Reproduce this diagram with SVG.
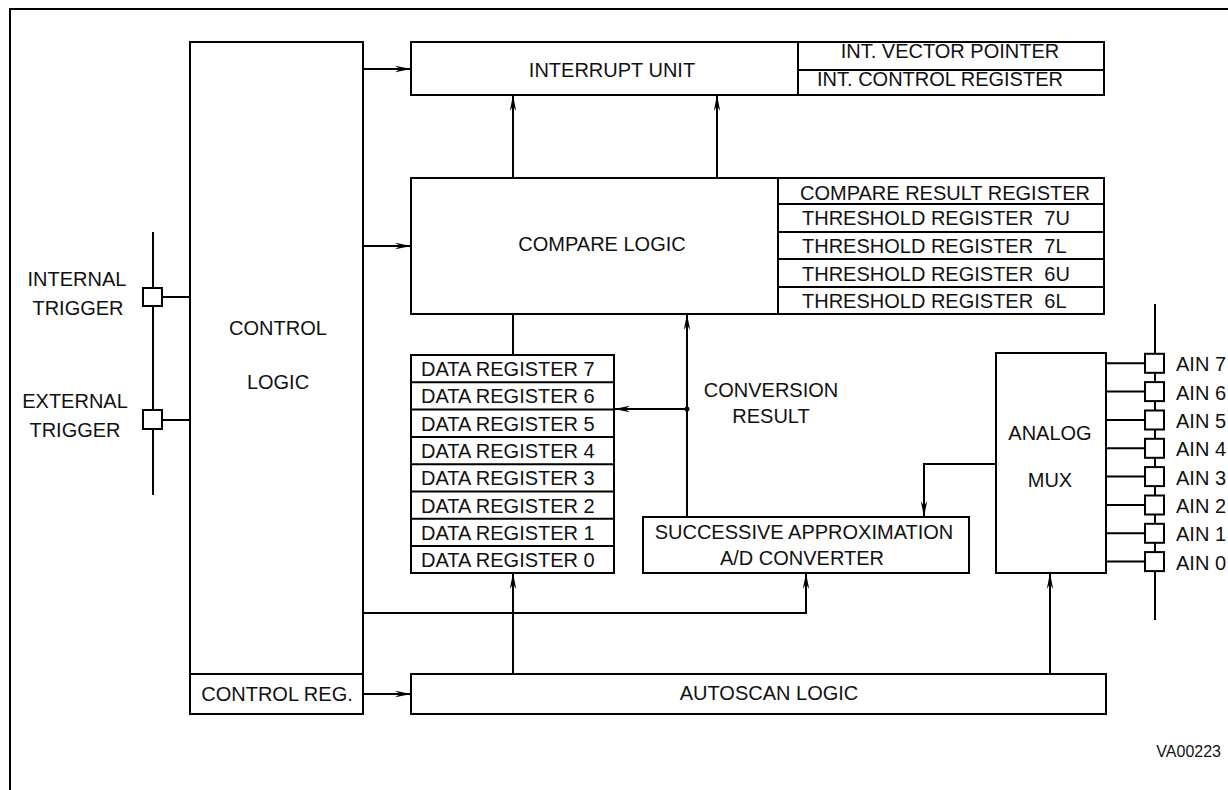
<svg xmlns="http://www.w3.org/2000/svg" width="1228" height="790" viewBox="0 0 1228 790">
<style>
  .box { fill: #fff; stroke: #000; stroke-width: 2; }
  .div { fill: none; stroke: #000; stroke-width: 2; }
  .ln { fill: none; stroke: #000; stroke-width: 2; }
  .ar { fill: none; stroke: #000; stroke-width: 2; marker-end: url(#arr); }
  .pin { fill: #fff; stroke: #000; stroke-width: 2; }
  text { font-family: "Liberation Sans", Arial, sans-serif; font-size: 20px; fill: #111; }
  .c { text-anchor: middle; }
  .s { text-anchor: start; }
  .small { font-size: 16px; text-anchor: end; }
</style>
<defs>
  <marker id="arr" viewBox="0 0 16 8" markerWidth="16" markerHeight="8" refX="16" refY="4" orient="auto" markerUnits="userSpaceOnUse">
    <path d="M0,0.8 L16,4 L0,7.2 L5,4 Z" fill="#000"/>
  </marker>
</defs>
<rect width="1228" height="790" fill="#fff"/>
<g id="frame">
  <path class="ln" d="M10,790 L10,9 L1228,9"/>
</g>

<g id="connectors">
  <!-- control logic to interrupt / compare -->
  <path class="ar" d="M363,69 L411,69"/>
  <path class="ar" d="M363,246 L411,246"/>
  <!-- compare to interrupt -->
  <path class="ar" d="M513,178 L513,95"/>
  <path class="ar" d="M717,178 L717,95"/>
  <!-- compare to data registers -->
  <path class="ln" d="M513,314 L513,355"/>
  <!-- conversion result -->
  <path class="ar" d="M687,517 L687,314"/>
  <path class="ar" d="M687,409 L614,409"/>
  <circle cx="687" cy="409" r="2.5" fill="#000"/>
  <!-- mux to SAR -->
  <path class="ar" d="M996,464 L924,464 L924,517"/>
  <!-- control logic to SAR -->
  <path class="ar" d="M363,613 L806,613 L806,573"/>
  <!-- autoscan to data registers -->
  <path class="ar" d="M513,674 L513,573"/>
  <!-- control reg to autoscan -->
  <path class="ar" d="M363,694 L411,694"/>
  <!-- autoscan to mux -->
  <path class="ar" d="M1050,674 L1050,573"/>
  <!-- trigger bus -->
  <path class="ln" d="M153,232 L153,495"/>
  <path class="ln" d="M162,297 L190,297"/>
  <path class="ln" d="M162,420 L190,420"/>
  <!-- AIN bus -->
  <path class="ln" d="M1155,304 L1155,620"/>
  <path class="ln" d="M1106,363.3 L1145,363.3 M1106,391.6 L1145,391.6 M1106,420 L1145,420 M1106,448.3 L1145,448.3 M1106,476.6 L1145,476.6 M1106,505 L1145,505 M1106,533.3 L1145,533.3 M1106,561.6 L1145,561.6"/>
</g>

<g id="control-logic">
  <rect class="box" x="190" y="42" width="173" height="632"/>
  <text class="c" x="278" y="335">CONTROL</text>
  <text class="c" x="278" y="389">LOGIC</text>
</g>
<g id="control-reg">
  <rect class="box" x="190" y="674" width="173" height="40"/>
  <text class="c" x="277" y="701">CONTROL REG.</text>
</g>

<g id="interrupt-unit">
  <rect class="box" x="411" y="42" width="693" height="53"/>
  <path class="div" d="M798,42 L798,95 M798,70 L1104,70"/>
  <text class="c" x="612" y="77">INTERRUPT UNIT</text>
  <text class="c" x="950" y="58">INT. VECTOR POINTER</text>
  <text class="c" x="940" y="86">INT. CONTROL REGISTER</text>
</g>

<g id="compare-logic">
  <rect class="box" x="411" y="178" width="693" height="136"/>
  <path class="div" d="M778,178 L778,314 M778,204 L1104,204 M778,232 L1104,232 M778,259 L1104,259 M778,287 L1104,287"/>
  <text class="c" x="602" y="251">COMPARE LOGIC</text>
  <text class="c" x="945" y="200">COMPARE RESULT REGISTER</text>
  <text class="s" x="802" y="225" xml:space="preserve">THRESHOLD REGISTER  7U</text>
  <text class="s" x="802" y="253" xml:space="preserve">THRESHOLD REGISTER  7L</text>
  <text class="s" x="802" y="281" xml:space="preserve">THRESHOLD REGISTER  6U</text>
  <text class="s" x="802" y="308" xml:space="preserve">THRESHOLD REGISTER  6L</text>
</g>

<g id="data-registers">
  <rect class="box" x="411" y="355" width="203" height="218"/>
  <path class="div" d="M411,382.3 L614,382.3 M411,409.6 L614,409.6 M411,437 L614,437 M411,464.2 L614,464.2 M411,491.5 L614,491.5 M411,518.8 L614,518.8 M411,546 L614,546"/>
  <text class="s" x="421" y="376">DATA REGISTER 7</text>
  <text class="s" x="421" y="403">DATA REGISTER 6</text>
  <text class="s" x="421" y="430.5">DATA REGISTER 5</text>
  <text class="s" x="421" y="458">DATA REGISTER 4</text>
  <text class="s" x="421" y="485">DATA REGISTER 3</text>
  <text class="s" x="421" y="512.5">DATA REGISTER 2</text>
  <text class="s" x="421" y="540">DATA REGISTER 1</text>
  <text class="s" x="421" y="567">DATA REGISTER 0</text>
</g>

<g id="conversion-result-label">
  <text class="c" x="771" y="397">CONVERSION</text>
  <text class="c" x="771" y="423">RESULT</text>
</g>

<g id="sar-adc">
  <rect class="box" x="643" y="517" width="326" height="56"/>
  <text class="c" x="804" y="539">SUCCESSIVE APPROXIMATION</text>
  <text class="c" x="802" y="565">A/D CONVERTER</text>
</g>

<g id="analog-mux">
  <rect class="box" x="996" y="353" width="110" height="220"/>
  <text class="c" x="1050" y="440">ANALOG</text>
  <text class="c" x="1050" y="487">MUX</text>
</g>

<g id="autoscan-logic">
  <rect class="box" x="411" y="674" width="695" height="40"/>
  <text class="c" x="769" y="700">AUTOSCAN LOGIC</text>
</g>

<g id="internal-trigger">
  <rect class="pin" x="143" y="288" width="19" height="18"/>
  <text class="c" x="77" y="286">INTERNAL</text>
  <text class="c" x="78" y="315">TRIGGER</text>
</g>
<g id="external-trigger">
  <rect class="pin" x="143" y="410" width="19" height="19"/>
  <text class="c" x="75" y="408">EXTERNAL</text>
  <text class="c" x="75" y="437">TRIGGER</text>
</g>

<g id="ain-pins">
  <g id="ain7"><rect class="pin" x="1145" y="353.8" width="19" height="19"/><text class="s" x="1176" y="371.3">AIN 7</text></g>
  <g id="ain6"><rect class="pin" x="1145" y="382.1" width="19" height="19"/><text class="s" x="1176" y="399.7">AIN 6</text></g>
  <g id="ain5"><rect class="pin" x="1145" y="410.5" width="19" height="19"/><text class="s" x="1176" y="428">AIN 5</text></g>
  <g id="ain4"><rect class="pin" x="1145" y="438.8" width="19" height="19"/><text class="s" x="1176" y="456.3">AIN 4</text></g>
  <g id="ain3"><rect class="pin" x="1145" y="467.1" width="19" height="19"/><text class="s" x="1176" y="484.7">AIN 3</text></g>
  <g id="ain2"><rect class="pin" x="1145" y="495.5" width="19" height="19"/><text class="s" x="1176" y="513">AIN 2</text></g>
  <g id="ain1"><rect class="pin" x="1145" y="523.8" width="19" height="19"/><text class="s" x="1176" y="541.3">AIN 1</text></g>
  <g id="ain0"><rect class="pin" x="1145" y="552.1" width="19" height="19"/><text class="s" x="1176" y="569.7">AIN 0</text></g>
</g>

<g id="figure-id">
  <text class="small" x="1221" y="757">VA00223</text>
</g>
</svg>
